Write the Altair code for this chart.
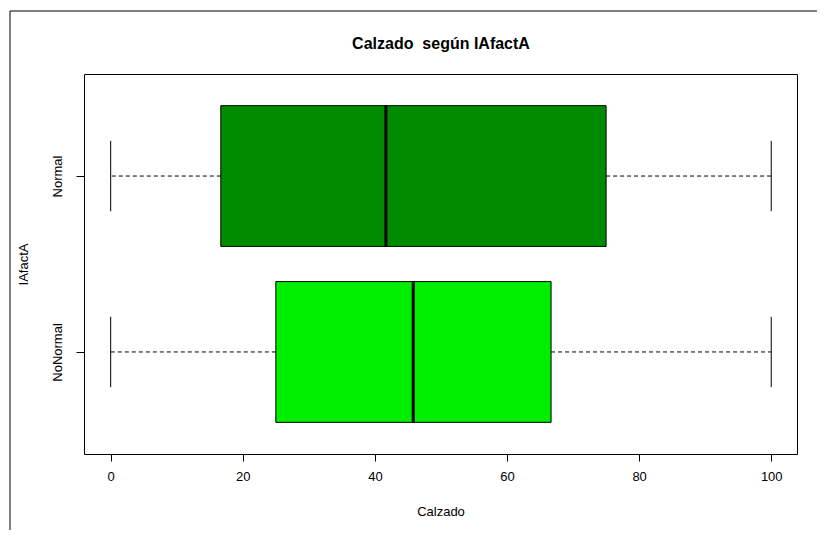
import altair as alt
import pandas as pd

# Data
groups = ["NoNormal", "Normal"]
positions = [1, 2]
mins = [0, 0]
q1 = [25.0, 16.67]
medians = [45.8, 41.67]
q3 = [66.67, 75.0]
maxs = [100, 100]
x_ticks = [0, 20, 40, 60, 80, 100]
fills = ["#00EE00", "#008B00"]
title_text = "Calzado\u00a0\u00a0según IAfactA"

box_half = 0.4
staple_half = 0.2

df = pd.DataFrame({
    "group": groups,
    "pos": positions,
    "min": mins,
    "q1": q1,
    "med": medians,
    "q3": q3,
    "max": maxs,
})
df["lo"] = df["pos"] - box_half
df["hi"] = df["pos"] + box_half
df["slo"] = df["pos"] - staple_half
df["shi"] = df["pos"] + staple_half

FONT = "Liberation Sans"
FS = 13
W, H = 713, 380

xscale = alt.Scale(domain=[-4.04, 103.9], nice=False, zero=False)
yscale = alt.Scale(domain=[0.42, 2.58], nice=False, zero=False)

base = alt.Chart(df)

x_axis = alt.Axis(
    values=x_ticks, title="Calzado", grid=False, domain=False,
    tickSize=7, tickColor="black", labelPadding=9,
    labelFont=FONT, labelFontSize=FS, labelColor="black",
    titleFont=FONT, titleFontSize=FS, titleFontWeight="normal", titleColor="black",
    titleBaseline="middle", titleY=57,
)
y_axis = alt.Axis(
    values=positions, title="IAfactA", grid=False, domain=False,
    tickSize=8, tickColor="black", labelPadding=12,
    labelExpr="datum.value == 2 ? 'Normal' : 'NoNormal'",
    labelAngle=270, labelAlign="center", labelBaseline="bottom",
    labelFont=FONT, labelFontSize=FS, labelColor="black",
    titleFont=FONT, titleFontSize=FS, titleFontWeight="normal", titleColor="black",
    titleBaseline="middle", titleX=-61,
)

whisk_lo = base.mark_rule(color="black", strokeWidth=1, strokeDash=[4, 3]).encode(
    x=alt.X("q1:Q", scale=xscale, axis=x_axis),
    x2="min:Q",
    y=alt.Y("pos:Q", scale=yscale, axis=y_axis),
)
whisk_hi = base.mark_rule(color="black", strokeWidth=1, strokeDash=[4, 3]).encode(
    x="q3:Q", x2="max:Q", y="pos:Q",
)
staple_lo = base.mark_rule(color="black", strokeWidth=1).encode(
    x="min:Q", y="slo:Q", y2="shi:Q",
)
staple_hi = base.mark_rule(color="black", strokeWidth=1).encode(
    x="max:Q", y="slo:Q", y2="shi:Q",
)
box = base.mark_rect(stroke="black", strokeWidth=1, opacity=1).encode(
    x="q1:Q", x2="q3:Q", y="lo:Q", y2="hi:Q",
    color=alt.Color("group:N", scale=alt.Scale(domain=groups, range=fills), legend=None),
)
median = base.mark_rule(color="black", strokeWidth=3).encode(
    x="med:Q", y="lo:Q", y2="hi:Q",
)

one = pd.DataFrame({"t": [title_text]})
title_mark = alt.Chart(one).mark_text(
    font=FONT, fontSize=16, fontWeight="bold", color="black",
    align="center", baseline="middle", clip=False,
).encode(text="t:N", x=alt.value(W / 2 + 0.5), y=alt.value(-30))

frame_top = alt.Chart(one).mark_rule(
    color="black", strokeWidth=1, clip=False
).encode(x=alt.value(-74), x2=alt.value(760), y=alt.value(-63))
frame_left = alt.Chart(one).mark_rule(
    color="black", strokeWidth=1, clip=False
).encode(x=alt.value(-74), y=alt.value(-63), y2=alt.value(470))

chart = alt.layer(
    frame_top, frame_left, whisk_lo, whisk_hi, staple_lo, staple_hi, box, median, title_mark
).properties(
    width=W,
    height=H,
    background="white",
    autosize=alt.AutoSizeParams(type="none"),
    padding={"left": 76, "top": 66, "right": 20, "bottom": 76},
).configure_view(
    stroke="black", strokeWidth=1,
)

chart.save("out.html", embed_options={"renderer": "svg", "actions": False})
